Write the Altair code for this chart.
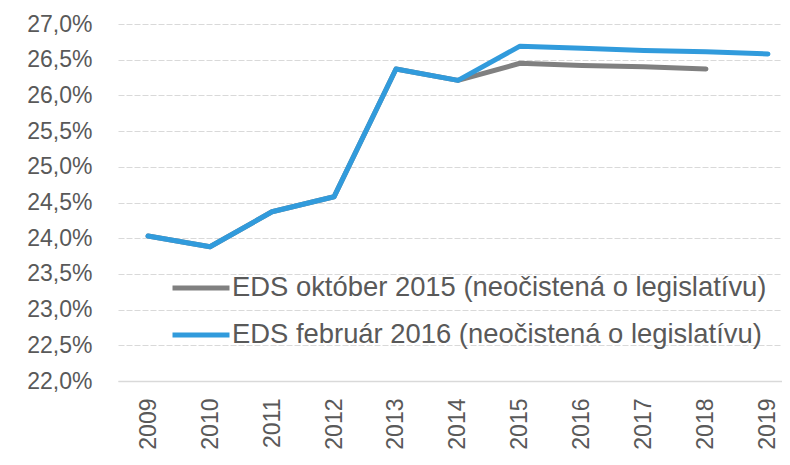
import altair as alt
import pandas as pd

years = [2009, 2010, 2011, 2012, 2013, 2014, 2015, 2016, 2017, 2018, 2019]
eds_okt_2015 = [24.03, 23.88, 24.37, 24.58, 26.37, 26.21, 26.45, 26.42, 26.40, 26.37, None]
eds_feb_2016 = [24.03, 23.88, 24.37, 24.58, 26.37, 26.21, 26.69, 26.66, 26.63, 26.61, 26.58]
series_names = ["EDS október 2015 (neočistená o legislatívu)",
                "EDS február 2016 (neočistená o legislatívu)"]
series_colors = ["#808080", "#319BDC"]
y_ticks = [22.0, 22.5, 23.0, 23.5, 24.0, 24.5, 25.0, 25.5, 26.0, 26.5, 27.0]

rows = []
for name, vals in zip(series_names, [eds_okt_2015, eds_feb_2016]):
    for yr, v in zip(years, vals):
        if v is not None:
            rows.append({"rok": yr, "hodnota": v, "seria": name})
df = pd.DataFrame(rows)

FONT = "Liberation Sans"
TXT = "#595959"

x = alt.X("rok:Q", title=None,
          scale=alt.Scale(domain=[2008.516, 2019.226], nice=False, zero=False),
          axis=alt.Axis(values=years, format="d", labelAngle=-90, labelFontSize=23,
                        labelColor=TXT, labelFont=FONT, ticks=False, labelPadding=17,
                        domainColor="#d9d9d9", domainWidth=1.5, grid=False,
                        labelBaseline="middle", labelAlign="right", labelFlush=False,
                        labelOverlap=False))
y = alt.Y("hodnota:Q", title=None,
          scale=alt.Scale(domain=[22, 27], nice=False, zero=False),
          axis=alt.Axis(values=y_ticks, labelFontSize=23, labelColor=TXT, labelFont=FONT,
                        labelExpr="replace(format(datum.value, '.1f'), '.', ',') + '%'",
                        ticks=False, domain=False, labelPadding=26,
                        gridColor="#d9d9d9", gridDash=[6, 2], gridWidth=1))
color = alt.Color("seria:N", title=None,
                  scale=alt.Scale(domain=series_names, range=series_colors),
                  legend=alt.Legend(orient="none", legendX=66, legendY=247,
                                    symbolType="M-2,0L2,0", symbolSize=812,
                                    symbolStrokeWidth=5,
                                    labelFontSize=27.4, labelColor=TXT, labelFont=FONT,
                                    labelOffset=14, rowPadding=16, labelLimit=700))

base = alt.Chart(df).mark_line(strokeWidth=5, strokeCap="round", strokeJoin="round")
gray = base.transform_filter(alt.datum.seria == series_names[0]).encode(x=x, y=y, color=color)
blue = base.transform_filter(alt.datum.seria == series_names[1]).encode(x=x, y=y, color=color)

chart = alt.layer(gray, blue).properties(
    width=664, height=357,
    background="white",
    autosize=alt.AutoSizeParams(type="none"),
    padding={"left": 110, "top": 16, "right": 0, "bottom": 80},
).configure_view(strokeWidth=0).configure_axisY(domain=False, ticks=False)

chart.save("out.html", embed_options={"renderer": "svg", "actions": False})
